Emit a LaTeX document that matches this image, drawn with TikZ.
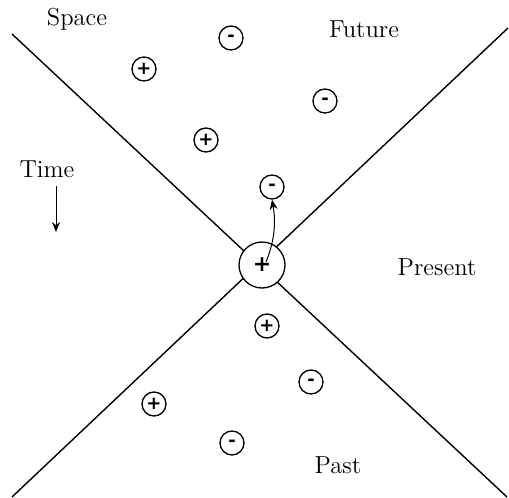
\documentclass[tikz,border=0pt]{standalone}
\usepackage{fontspec}
\usepackage{tikz}
\usetikzlibrary{arrows.meta,positioning}
\newfontfamily\signfont{DejaVu Sans}

\begin{document}
\begin{tikzpicture}[
  x=0.5pt, y=-0.5pt,
  font=\fontsize{12.3}{14}\selectfont,
  cone/.style={line width=0.7pt},
  charge/.style={draw, circle, line width=0.65pt, minimum size=12pt, inner sep=0pt, font=\signfont\fontsize{9}{9}\selectfont\bfseries},
  bigcharge/.style={draw, circle, fill=white, line width=0.65pt, minimum size=23pt, inner sep=0pt, font=\signfont\fontsize{11}{11}\selectfont\bfseries},
  arr/.style={-{Stealth[length=5pt,width=4pt]}, line width=0.5pt}
]
\useasboundingbox (0,0) rectangle (509,498);
% light cone
\draw[cone] (12,34) -- (507,497);
\draw[cone] (508,28) -- (12,497);
\node[bigcharge] (here) at (262,265) {+};
% labels
\node (space) at (77,19) {Space};
\node (future) at (364,29) {Future};
\node (time) at (47,169) {Time};
\node (present) at (437,267) {Present};
\node (past) at (338,465) {Past};
\coordinate (ttop) at (56,186);
\coordinate (tbot) at (56,232);
\draw[arr] (ttop) -- (tbot);
% charges in the future
\node[charge] (m1) at (231,38) {-};
\node[charge] (p1) at (144,69) {+};
\node[charge] (m2) at (325,101) {-};
\node[charge] (p2) at (206,140) {+};
\node[charge] (m3) at (272,187) {-};
% charges in the past
\node[charge] (p3) at (267,326) {+};
\node[charge] (m4) at (311,382) {-};
\node[charge] (p4) at (154,404) {+};
\node[charge] (m5) at (232,443) {-};
% worldline
\coordinate (tail) at (266,262);
\draw[arr] (tail) .. controls (272,247) and (277,228) .. (m3.south);
\end{tikzpicture}
\end{document}
